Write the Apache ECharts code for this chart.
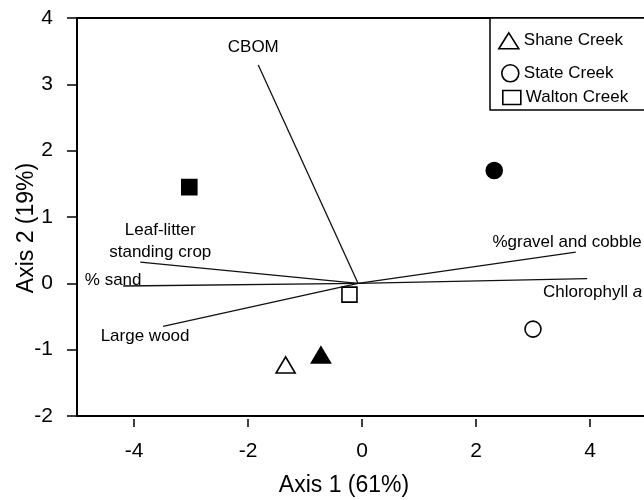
<!DOCTYPE html>
<html lang="en">
  <head>
    <meta charset="UTF-8" />
    <title>Ordination biplot</title>
    <style>
      * {
        padding: 0;
        margin: 0;
      }
      body {
        background: #fff;
      }
      #chart {
        width: 644px;
        height: 500px;
      }
    </style>
    <script src="https://cdn.jsdelivr.net/npm/echarts@6/dist/echarts.min.js"></script>
  </head>
  <body>
    <div id="chart"></div>
  </body>
  <script>
    // sites, open = first sampling, filled = second sampling
    const sites = ["Shane Creek", "State Creek", "Walton Creek"];
    const siteSymbols = ["triangle", "circle", "rect"];
    const openPts = [
      [-1.34, -1.23],
      [3.0, -0.69],
      [-0.22, -0.17],
    ];
    const filledPts = [
      [-0.72, -1.08],
      [2.32, 1.7],
      [-3.03, 1.45],
    ];

    // environmental vectors
    const vectorOrigin = [-0.07, 0];
    const vectorNames = [
      "CBOM",
      "Leaf-litter\nstanding crop",
      "% sand",
      "Large wood",
      "%gravel and cobble",
      "Chlorophyll {i|a}",
    ];
    const vectorX = [-1.82, -3.89, -4.19, -3.49, 3.75, 3.95];
    const vectorY = [3.29, 0.32, -0.04, -0.65, 0.47, 0.07];

    const xTicks = [-4, -2, 0, 2, 4];
    const yTicks = [-2, -1, 0, 1, 2, 3, 4];

    // label placement (pixel offsets from the vector tip)
    const labelPlace = [
      { offset: [-5, -18], align: "center" },
      { offset: [20, -21], align: "center" },
      { offset: [-10, -6], align: "center" },
      { offset: [-18, 10], align: "center" },
      { offset: [66, -10], align: "right" },
      { offset: [55, 14], align: "right" },
    ];

    const font = "Liberation Sans, Arial, sans-serif";
    const chart = echarts.init(document.getElementById("chart"));

    const openStyle = { color: "#fff", borderColor: "#000", borderWidth: 1.6, opacity: 1 };
    const filledStyle = { color: "#000", borderColor: "#000", borderWidth: 1.6, opacity: 1 };
    const symbolSizes = [[19, 16], 16, 15];

    const siteSeries = sites.map((name, i) => ({
      name: name,
      type: "scatter",
      symbol: siteSymbols[i],
      symbolSize: symbolSizes[i],
      itemStyle: openStyle,
      z: 5,
      data: [
        { value: openPts[i], itemStyle: openStyle },
        { value: filledPts[i], itemStyle: filledStyle },
      ],
    }));

    const tips = vectorNames.map((n, i) => [vectorX[i], vectorY[i]]);

    const legendRows = [
      { top: 32, left: 498, w: 20, h: 16 },
      { top: 64, left: 501, w: 17, h: 17 },
      { top: 89, left: 502, w: 18, h: 14 },
    ];

    const option = {
      animation: false,
      textStyle: { fontFamily: font },
      grid: {
        left: 77,
        top: 18,
        width: 570,
        height: 398,
        outerBoundsMode: "none",
        containLabel: false,
      },
      graphic: [
        {
          type: "rect",
          z: 1,
          shape: { x: 490, y: 18, width: 170, height: 92 },
          style: { fill: "#fff", stroke: "#000", lineWidth: 1.5 },
        },
      ],
      legend: sites.map((name, i) => ({
        data: [{ name: name, icon: siteSymbols[i], itemStyle: openStyle }],
        left: legendRows[i].left,
        top: legendRows[i].top,
        padding: 0,
        itemWidth: legendRows[i].w,
        itemHeight: legendRows[i].h,
        itemGap: 5,
        selectedMode: false,
        z: 6,
        textStyle: { fontSize: 17, color: "#000", fontFamily: font },
      })),
      xAxis: [
        {
          type: "value",
          position: "bottom",
          min: -5,
          max: 5,
          offset: 3,
          name: "Axis 1 (61%)",
          nameLocation: "middle",
          nameGap: 55,
          nameMoveOverlap: false,
          nameTextStyle: {
            fontSize: 23,
            color: "#000",
            fontFamily: font,
            padding: [0, 36, 0, 0],
          },
          axisLine: { show: false, onZero: false },
          axisTick: {
            show: true,
            length: 8,
            customValues: xTicks,
            lineStyle: { color: "#000", width: 1.5 },
          },
          axisLabel: {
            fontSize: 21,
            color: "#000",
            margin: 22,
            fontFamily: font,
            customValues: xTicks,
          },
          splitLine: { show: false },
        },
        {
          // frame: bottom edge
          type: "value",
          position: "bottom",
          min: -5,
          max: 5,
          axisLine: { show: true, onZero: false, lineStyle: { color: "#000", width: 2 } },
          axisTick: { show: false },
          axisLabel: { show: false },
          splitLine: { show: false },
        },
        {
          // frame: top edge
          type: "value",
          position: "top",
          min: -5,
          max: 5,
          axisLine: { show: true, onZero: false, lineStyle: { color: "#000", width: 2 } },
          axisTick: { show: false },
          axisLabel: { show: false },
          splitLine: { show: false },
        },
      ],
      yAxis: {
        type: "value",
        min: -2,
        max: 4,
        interval: 1,
        name: "Axis 2 (19%)",
        nameLocation: "middle",
        nameGap: 39,
        nameMoveOverlap: false,
        nameTextStyle: {
          fontSize: 23,
          color: "#000",
          fontFamily: font,
          padding: [0, 22, 0, 0],
        },
        axisLine: { show: true, onZero: false, lineStyle: { color: "#000", width: 2 } },
        axisTick: {
          show: true,
          length: 10,
          customValues: yTicks,
          lineStyle: { color: "#000", width: 1.5 },
        },
        axisLabel: {
          fontSize: 21,
          color: "#000",
          margin: 24,
          fontFamily: font,
          customValues: yTicks,
        },
        splitLine: { show: false },
      },
      series: [
        {
          name: "vectors",
          type: "lines",
          coordinateSystem: "cartesian2d",
          polyline: false,
          silent: true,
          z: 3,
          lineStyle: { color: "#111", width: 1.3, opacity: 1 },
          data: tips.map((t) => ({ coords: [vectorOrigin, t] })),
        },
        {
          name: "vectorLabels",
          type: "scatter",
          symbolSize: 0,
          silent: true,
          z: 4,
          itemStyle: { opacity: 1 },
          data: tips.map((t, i) => ({
            value: t,
            label: {
              show: true,
              position: "inside",
              formatter: vectorNames[i],
              offset: labelPlace[i].offset,
              align: labelPlace[i].align,
              verticalAlign: "middle",
              color: "#000",
              fontSize: 17,
              lineHeight: 22,
              fontFamily: font,
              rich: {
                i: { fontStyle: "italic", fontSize: 17, fontFamily: font, color: "#000" },
              },
            },
          })),
        },
      ].concat(siteSeries),
    };

    chart.setOption(option);
  </script>
</html>
